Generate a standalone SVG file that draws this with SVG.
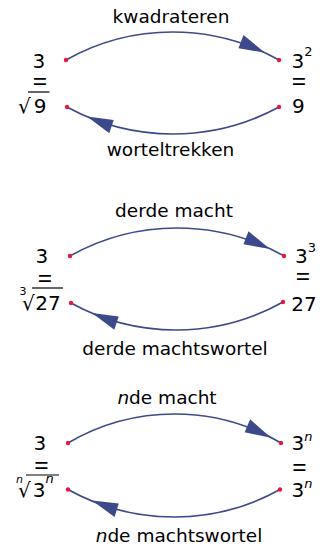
<svg xmlns="http://www.w3.org/2000/svg" xmlns:xlink="http://www.w3.org/1999/xlink" width="320" height="546" viewBox="0 0 320 546">
<style>
text{font-family:"DejaVu Sans","Liberation Sans",sans-serif;fill:#000}
.num{font-size:20px}
.sup{font-size:13px}
.idx{font-size:11px}
.eq{font-family:"Noto Sans",sans-serif;font-size:26px}
.lbl{font-size:18.5px;text-anchor:middle}
.it{font-style:italic}
.curve{fill:none;stroke:#3c4a8c;stroke-width:1.7}
.head{fill:#3c4a8c}
.dot{fill:#e8173e}
.bar{stroke:#000;stroke-width:1.2}
</style>
<defs>
<path id="ah" d="M0,0 L-27,-7 L-26,7 Z"/>
</defs>
<rect width="320" height="546" fill="#fff"/>

<!-- Panel 1 -->
<g id="p1-left">
<text class="num"><tspan x="32.6" y="68">3</tspan><tspan class="eq" x="32.6" y="90.8">=</tspan><tspan x="18" y="113">√</tspan><tspan dx="3">9</tspan></text>
<line class="bar" x1="28" y1="92" x2="49.5" y2="92"/>
</g>
<g id="p1-right">
<text class="num"><tspan x="291.6" y="68">3</tspan><tspan class="sup" dy="-12">2</tspan><tspan class="eq" x="291.6" y="90.8">=</tspan><tspan x="292.1" y="113">9</tspan></text>
</g>

<!-- Panel 2 -->
<g id="p2-left">
<text class="num"><tspan x="35.6" y="263">3</tspan><tspan class="eq" x="37.6" y="287.8">=</tspan><tspan class="idx" x="19.5" y="295">3</tspan><tspan x="22" y="310">√</tspan><tspan dx="0.6">27</tspan></text>
<line class="bar" x1="32" y1="288" x2="63" y2="288"/>
</g>
<g id="p2-right">
<text class="num"><tspan x="295.1" y="263">3</tspan><tspan class="sup" dy="-11">3</tspan><tspan class="eq" x="295.6" y="285.8">=</tspan><tspan x="291.3" y="311">27</tspan></text>
</g>

<!-- Panel 3 -->
<g id="p3-left">
<text class="num"><tspan x="33.6" y="450">3</tspan><tspan class="eq" x="34.1" y="474.8">=</tspan><tspan class="idx it" x="16" y="483">n</tspan><tspan x="18" y="497">√</tspan><tspan dx="1.9">3</tspan><tspan class="sup it" dy="-14">n</tspan></text>
<line class="bar" x1="26" y1="475" x2="59" y2="475"/>
</g>
<g id="p3-right">
<text class="num"><tspan x="291.6" y="450">3</tspan><tspan class="sup it" dy="-9">n</tspan><tspan class="eq" x="292.1" y="476.8">=</tspan><tspan x="291.6" y="497">3</tspan><tspan class="sup it" dy="-9">n</tspan></text>
</g>

<g id="connectors">
<g id="c1-top">
<path class="curve" d="M66,60 A216.5,216.5 0 0 1 279,60"/>
<use xlink:href="#ah" class="head" transform="translate(265,52.8) rotate(25)"/>
<text class="lbl" x="171" y="23">kwadrateren</text>
</g>
<g id="c1-bot">
<path class="curve" d="M279,107 A221.6,221.6 0 0 1 67,107"/>
<use xlink:href="#ah" class="head" transform="translate(87,116.5) rotate(202.5)"/>
<text class="lbl" x="170.5" y="156">worteltrekken</text>
</g>
<g id="c2-top">
<path class="curve" d="M70,256 A218.4,218.4 0 0 1 284,256"/>
<use xlink:href="#ah" class="head" transform="translate(270,249) rotate(25)"/>
<text class="lbl" x="174" y="217">derde macht</text>
</g>
<g id="c2-bot">
<path class="curve" d="M283,302 A218,218 0 0 1 71,303"/>
<use xlink:href="#ah" class="head" transform="translate(92,313) rotate(202.4)"/>
<text class="lbl" x="175" y="355">derde machtswortel</text>
</g>
<g id="c3-top">
<path class="curve" d="M68,443 A210,210 0 0 1 281,443"/>
<use xlink:href="#ah" class="head" transform="translate(271,437.8) rotate(27)"/>
<text class="lbl" x="167" y="404"><tspan class="it">n</tspan>de macht</text>
</g>
<g id="c3-bot">
<path class="curve" d="M280,489.5 A218,218 0 0 1 68,489.5"/>
<use xlink:href="#ah" class="head" transform="translate(92,500.5) rotate(201.5)"/>
<text class="lbl" x="179" y="542"><tspan class="it">n</tspan>de machtswortel</text>
</g>
<circle class="dot" cx="66" cy="60" r="2.2"/>
<circle class="dot" cx="279" cy="60" r="2.2"/>
<circle class="dot" cx="67" cy="107" r="2.2"/>
<circle class="dot" cx="279" cy="107" r="2.2"/>
<circle class="dot" cx="70" cy="256" r="2.2"/>
<circle class="dot" cx="284" cy="256" r="2.2"/>
<circle class="dot" cx="71" cy="303" r="2.2"/>
<circle class="dot" cx="283" cy="302" r="2.2"/>
<circle class="dot" cx="68" cy="443" r="2.2"/>
<circle class="dot" cx="281" cy="443" r="2.2"/>
<circle class="dot" cx="68" cy="489.5" r="2.2"/>
<circle class="dot" cx="280" cy="489.5" r="2.2"/>
</g>
</svg>
